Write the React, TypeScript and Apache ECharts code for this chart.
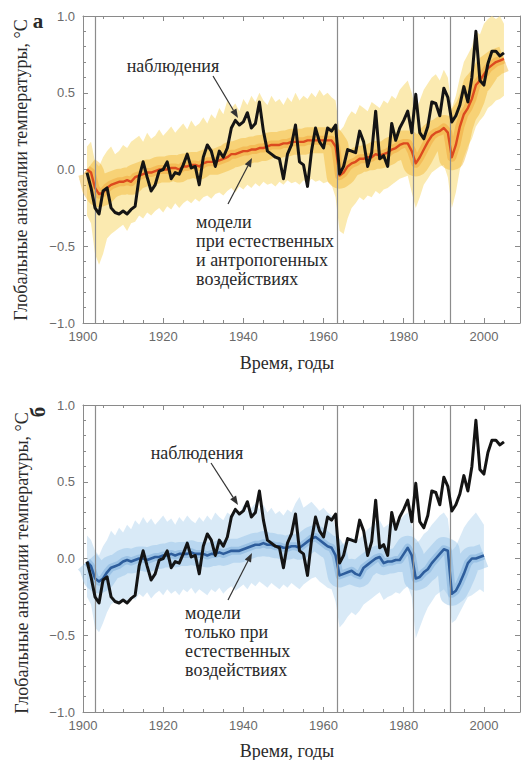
import React, { useEffect, useRef } from "react";
import * as echarts from "echarts";

// ---------- DATA ----------
const FIRST_YEAR = 1901;

// Observed global temperature anomaly, 1901–2005 (°C)
const observed = [
  -0.02, -0.12, -0.25, -0.29, -0.14, -0.12, -0.25, -0.28, -0.29, -0.27,
  -0.29, -0.26, -0.24, -0.05, 0.05, -0.05, -0.14, -0.10, -0.01, 0.00,
  0.05, -0.06, -0.02, -0.03, 0.03, 0.10, 0.01, 0.02, -0.10, 0.08,
  0.16, 0.12, 0.02, 0.12, 0.08, 0.14, 0.27, 0.32, 0.29, 0.31,
  0.37, 0.27, 0.30, 0.44, 0.25, 0.12, 0.10, 0.08, 0.07, -0.06,
  0.10, 0.16, 0.29, 0.05, 0.03, -0.11, 0.12, 0.27, 0.18, 0.14,
  0.27, 0.25, 0.29, -0.03, 0.02, 0.13, 0.12, 0.11, 0.25, 0.18,
  0.02, 0.11, 0.38, 0.07, 0.09, 0.02, 0.30, 0.19, 0.27, 0.32,
  0.38, 0.24, 0.49, 0.24, 0.20, 0.28, 0.44, 0.43, 0.35, 0.53,
  0.47, 0.31, 0.35, 0.42, 0.54, 0.44, 0.60, 0.90, 0.58, 0.55,
  0.69, 0.77, 0.77, 0.74, 0.76,
];

// Models, natural + anthropogenic forcing: ensemble mean 1901–2005
const allMean = [
  0.00, -0.02, -0.12, -0.16, -0.15, -0.12, -0.10, -0.09, -0.08, -0.08,
  -0.07, -0.08, -0.05, -0.04, -0.03, -0.02, -0.02, -0.01, 0.00, 0.00,
  0.00, 0.01, 0.01, 0.00, 0.02, 0.02, 0.03, 0.03, 0.02, 0.04,
  0.05, 0.05, 0.05, 0.06, 0.07, 0.08, 0.10, 0.10, 0.11, 0.12,
  0.12, 0.13, 0.13, 0.14, 0.14, 0.15, 0.16, 0.16, 0.16, 0.17,
  0.17, 0.18, 0.18, 0.18, 0.18, 0.19, 0.19, 0.19, 0.19, 0.19,
  0.19, 0.19, 0.15, -0.04, -0.02, 0.02, 0.04, 0.05, 0.07, 0.07,
  0.08, 0.08, 0.10, 0.09, 0.10, 0.11, 0.13, 0.14, 0.16, 0.17,
  0.17, 0.12, 0.04, 0.08, 0.13, 0.18, 0.22, 0.24, 0.25, 0.27,
  0.24, 0.08, 0.16, 0.28, 0.36, 0.40, 0.46, 0.55, 0.58, 0.62,
  0.66, 0.68, 0.70, 0.71, 0.72,
];
// ensemble envelope (upper / lower), 1901–2005
const allUpper = [
  0.15, 0.18, 0.05, 0.02, 0.08, 0.12, 0.15, 0.10, 0.12, 0.16,
  0.14, 0.18, 0.20, 0.22, 0.18, 0.24, 0.20, 0.22, 0.26, 0.22,
  0.25, 0.28, 0.24, 0.27, 0.30, 0.26, 0.32, 0.28, 0.30, 0.34,
  0.30, 0.36, 0.33, 0.40, 0.36, 0.45, 0.40, 0.43, 0.38, 0.46,
  0.42, 0.48, 0.44, 0.50, 0.45, 0.42, 0.48, 0.44, 0.46, 0.42,
  0.47, 0.44, 0.50, 0.45, 0.48, 0.46, 0.50, 0.47, 0.52, 0.48,
  0.50, 0.47, 0.45, 0.25, 0.28, 0.34, 0.38, 0.36, 0.42, 0.40,
  0.38, 0.44, 0.42, 0.40, 0.45, 0.43, 0.48, 0.46, 0.52, 0.55,
  0.58, 0.50, 0.38, 0.45, 0.52, 0.56, 0.60, 0.62, 0.58, 0.65,
  0.60, 0.40, 0.48, 0.60, 0.70, 0.75, 0.80, 0.90, 0.88, 0.95,
  0.98, 1.00, 0.98, 1.00, 0.95,
];
const allLower = [
  -0.30, -0.35, -0.55, -0.62, -0.55, -0.45, -0.42, -0.40, -0.38, -0.36,
  -0.40, -0.35, -0.34, -0.30, -0.32, -0.28, -0.30, -0.27, -0.25, -0.28,
  -0.24, -0.26, -0.22, -0.25, -0.22, -0.20, -0.22, -0.19, -0.21, -0.18,
  -0.17, -0.19, -0.16, -0.15, -0.17, -0.14, -0.12, -0.15, -0.11, -0.13,
  -0.10, -0.12, -0.09, -0.11, -0.08, -0.10, -0.09, -0.11, -0.08, -0.10,
  -0.07, -0.09, -0.08, -0.10, -0.07, -0.09, -0.06, -0.08, -0.07, -0.09,
  -0.08, -0.10, -0.18, -0.40, -0.42, -0.32, -0.25, -0.22, -0.18, -0.20,
  -0.17, -0.18, -0.14, -0.16, -0.13, -0.12, -0.10, -0.08, -0.06, -0.05,
  -0.04, -0.15, -0.25, -0.18, -0.10, -0.06, -0.02, 0.00, 0.02, 0.03,
  -0.05, -0.25, -0.15, 0.00, 0.08, 0.15, 0.20, 0.28, 0.32, 0.35,
  0.40, 0.42, 0.45, 0.46, 0.48,
];

// Models, natural forcing only: ensemble mean 1901–2000
const natMean = [
  -0.02, -0.05, -0.13, -0.15, -0.13, -0.09, -0.06, -0.05, -0.04, -0.02,
  -0.01, -0.02, -0.01, 0.00, 0.00, -0.01, 0.00, 0.01, 0.01, 0.02,
  0.02, 0.03, 0.02, 0.03, 0.03, 0.03, 0.04, 0.03, 0.03, 0.03,
  0.02, 0.03, 0.03, 0.04, 0.03, 0.04, 0.05, 0.05, 0.05, 0.06,
  0.07, 0.08, 0.09, 0.09, 0.10, 0.09, 0.09, 0.08, 0.08, 0.07,
  0.07, 0.08, 0.08, 0.07, 0.09, 0.11, 0.13, 0.14, 0.12, 0.10,
  0.08, 0.07, 0.02, -0.11, -0.10, -0.09, -0.08, -0.10, -0.11, -0.06,
  -0.04, -0.02, 0.00, 0.01, -0.03, -0.02, -0.02, -0.01, -0.01, 0.03,
  0.07, 0.02, -0.13, -0.12, -0.09, -0.07, -0.03, 0.00, 0.03, 0.06,
  0.05, -0.23, -0.21, -0.16, -0.10, -0.03, 0.00, 0.00, 0.01, 0.02,
];
const natUpper = [
  0.15, 0.12, 0.05, 0.02, 0.08, 0.12, 0.18, 0.15, 0.20, 0.17,
  0.22, 0.19, 0.25, 0.22, 0.27, 0.23, 0.26, 0.22, 0.25, 0.28,
  0.24, 0.26, 0.22, 0.27, 0.24, 0.28, 0.25, 0.23, 0.27, 0.24,
  0.28, 0.25, 0.30, 0.27, 0.25, 0.30, 0.28, 0.32, 0.29, 0.35,
  0.31, 0.33, 0.36, 0.32, 0.35, 0.30, 0.33, 0.29, 0.31, 0.28,
  0.32, 0.30, 0.36, 0.40, 0.33, 0.35, 0.37, 0.34, 0.31, 0.33,
  0.30, 0.28, 0.20, 0.08, 0.10, 0.12, 0.14, 0.11, 0.13, 0.16,
  0.19, 0.21, 0.23, 0.25, 0.20, 0.22, 0.24, 0.21, 0.25, 0.28,
  0.30, 0.22, 0.10, 0.12, 0.16, 0.18, 0.22, 0.25, 0.28, 0.30,
  0.26, 0.05, 0.08, 0.14, 0.20, 0.24, 0.27, 0.30, 0.26, 0.22,
];
const natLower = [
  -0.25, -0.30, -0.45, -0.48, -0.42, -0.35, -0.30, -0.28, -0.30, -0.26,
  -0.28, -0.24, -0.27, -0.23, -0.25, -0.22, -0.26, -0.23, -0.21, -0.24,
  -0.20, -0.23, -0.21, -0.24, -0.20, -0.22, -0.19, -0.23, -0.20, -0.22,
  -0.24, -0.20, -0.22, -0.19, -0.23, -0.20, -0.18, -0.21, -0.19, -0.17,
  -0.20, -0.16, -0.18, -0.15, -0.17, -0.19, -0.16, -0.18, -0.20, -0.17,
  -0.19, -0.16, -0.18, -0.20, -0.17, -0.15, -0.13, -0.12, -0.15, -0.17,
  -0.19, -0.20, -0.28, -0.45, -0.42, -0.38, -0.35, -0.37, -0.34, -0.30,
  -0.28, -0.26, -0.24, -0.22, -0.27, -0.25, -0.24, -0.22, -0.23, -0.20,
  -0.18, -0.25, -0.52, -0.45, -0.38, -0.32, -0.28, -0.24, -0.22, -0.20,
  -0.24, -0.42, -0.40, -0.35, -0.30, -0.25, -0.24, -0.22, -0.20, -0.22,
];

// Major volcanic eruptions (vertical lines)
const volcanoYears = [1903, 1963.3, 1982.3, 1991.5];

// Axes
const X_MIN = 1900;
const X_MAX = 2009;
const X_STEP = 20;
const Y_MIN = -1;
const Y_MAX = 1;
const Y_STEP = 0.5;

// Texts
const yTitle = "Глобальные аномалии температуры, °С";
const xTitle = "Время, годы";
const obsLabel = "наблюдения";
const allLabel = ["модели", "при естественных", "и антропогенных", "воздействиях"];
const natLabel = ["модели", "только при", "естественных", "воздействиях"];

// ---------- HELPERS ----------
const toPairs = (arr: number[]) => arr.map((v, i) => [FIRST_YEAR + i, v]);

const AXIS_COLOR = "#8a8a8a";
const LABEL_COLOR = "#6a6a6a";
const SANS = "Liberation Sans";
const SERIF = "Liberation Serif";
const TEXT_COLOR = "#2a2a2a";

function xAxes(gridIndex: number) {
  const base = {
    type: "value",
    gridIndex,
    min: X_MIN,
    max: X_MAX,
    interval: X_STEP,
    splitLine: { show: false },
    axisLine: { show: true, onZero: false, lineStyle: { color: AXIS_COLOR, width: 1 } },
    axisTick: { show: true, inside: true, length: 5, lineStyle: { color: AXIS_COLOR } },
    minorTick: { show: true, splitNumber: 4, length: 3, lineStyle: { color: AXIS_COLOR } },
  };
  return [
    {
      ...base,
      position: "bottom",
      axisLabel: {
        show: true,
        margin: 7,
        color: LABEL_COLOR,
        fontFamily: SANS,
        fontSize: 13,
        formatter: (v: number) => (v % X_STEP === 0 ? String(v) : ""),
      },
    },
    { ...base, position: "top", axisLabel: { show: false } },
  ];
}

function yAxes(gridIndex: number) {
  const base = {
    type: "value",
    gridIndex,
    min: Y_MIN,
    max: Y_MAX,
    interval: Y_STEP,
    splitLine: { show: false },
    axisLine: { show: true, onZero: false, lineStyle: { color: AXIS_COLOR, width: 1 } },
    axisTick: { show: true, inside: true, length: 5, lineStyle: { color: AXIS_COLOR } },
    minorTick: { show: true, splitNumber: 5, length: 3, lineStyle: { color: AXIS_COLOR } },
  };
  return [
    {
      ...base,
      position: "left",
      axisLabel: {
        show: true,
        margin: 8,
        color: LABEL_COLOR,
        fontFamily: SANS,
        fontSize: 13,
        formatter: (v: number) => v.toFixed(1).replace("-", "\u2212"),
      },
    },
    { ...base, position: "right", axisLabel: { show: false } },
  ];
}

function bandSeries(axisIndex: number, upper: number[], lower: number[], fill: string, opacity: number) {
  return {
    type: "custom",
    xAxisIndex: axisIndex,
    yAxisIndex: axisIndex,
    silent: true,
    z: 1,
    data: [[FIRST_YEAR, 0]],
    encode: { x: 0, y: 1 },
    renderItem: (_params: any, api: any) => {
      const pts: number[][] = [];
      upper.forEach((v, k) => pts.push(api.coord([FIRST_YEAR + k, v])));
      for (let k = lower.length - 1; k >= 0; k--) pts.push(api.coord([FIRST_YEAR + k, lower[k]]));
      return { type: "polygon", shape: { points: pts }, style: { fill, opacity } };
    },
  };
}

function lineSeries(axisIndex: number, data: number[], color: string, width: number, z: number, opacity = 1) {
  return {
    type: "line",
    xAxisIndex: axisIndex,
    yAxisIndex: axisIndex,
    data: toPairs(data),
    showSymbol: false,
    symbol: "none",
    silent: true,
    z,
    lineStyle: { color, width, opacity, join: "round", cap: "butt" },
  };
}

function volcanoSeries(axisIndex: number) {
  return {
    type: "line",
    xAxisIndex: axisIndex,
    yAxisIndex: axisIndex,
    data: [],
    silent: true,
    z: 2,
    markLine: {
      silent: true,
      symbol: "none",
      label: { show: false },
      lineStyle: { color: "#8c8c8c", type: "solid", width: 1.2 },
      data: volcanoYears.map((y) => ({ xAxis: y })),
    },
  };
}

function arrow(x1: number, y1: number, x2: number, y2: number) {
  const ang = Math.atan2(y2 - y1, x2 - x1);
  const hl = 9;
  const hw = 3.5;
  const bx = x2 - hl * Math.cos(ang);
  const by = y2 - hl * Math.sin(ang);
  const px = -Math.sin(ang) * hw;
  const py = Math.cos(ang) * hw;
  return [
    {
      type: "line",
      shape: { x1, y1, x2: bx, y2: by },
      style: { stroke: "#333", lineWidth: 1.2 },
      z: 100,
    },
    {
      type: "polygon",
      shape: { points: [[x2, y2], [bx + px, by + py], [bx - px, by - py]] },
      style: { fill: "#333" },
      z: 100,
    },
  ];
}

function text(x: number, y: number, t: string, opts: any = {}) {
  return {
    type: "text",
    x,
    y,
    rotation: opts.rotation || 0,
    z: 100,
    style: {
      text: t,
      fill: opts.fill || TEXT_COLOR,
      fontFamily: SERIF,
      fontSize: opts.fontSize || 18,
      fontWeight: opts.fontWeight || "normal",
      align: opts.align || "center",
      verticalAlign: opts.verticalAlign || "middle",
      lineHeight: opts.lineHeight,
    },
  };
}

export default function App() {
  const ref = useRef<HTMLDivElement>(null);

  useEffect(() => {
    document.body.style.margin = "0";
    const chart = echarts.init(ref.current!, null, { renderer: "svg" });

    const option: any = {
      animation: false,
      backgroundColor: "#ffffff",
      grid: [
        { left: 83, top: 16, width: 437, height: 307 },
        { left: 83, top: 405, width: 437, height: 307 },
      ],
      xAxis: [...xAxes(0), ...xAxes(1)],
      yAxis: [...yAxes(0), ...yAxes(1)],
      series: [
        // panel а
        bandSeries(0, allUpper, allLower, "#f9dc7c", 0.6),
        volcanoSeries(0),
        lineSeries(0, allMean, "#f2b630", 26, 3, 0.45),
        lineSeries(0, allMean, "#f09a2a", 9, 3, 0.4),
        lineSeries(0, allMean, "#dc4a1e", 2.4, 4),
        lineSeries(0, observed, "#141414", 3, 5),
        // panel б
        bandSeries(2, natUpper, natLower, "#c4def2", 0.65),
        volcanoSeries(2),
        lineSeries(2, natMean, "#93c0e6", 24, 3, 0.45),
        lineSeries(2, natMean, "#6fa3d4", 8, 3, 0.4),
        lineSeries(2, natMean, "#2d5d9c", 2.6, 4),
        lineSeries(2, observed, "#141414", 3, 5),
      ],
      graphic: [
        text(38, 21, "а", { fontSize: 21, fontWeight: "bold" }),
        text(38, 412, "б", { fontSize: 21, fontWeight: "bold", rotation: Math.PI / 2 }),
        text(21, 170, yTitle, { rotation: Math.PI / 2 }),
        text(22, 563, yTitle, { rotation: Math.PI / 2 }),
        text(287, 363, xTitle),
        text(287, 751, xTitle),
        // panel а annotations
        text(173, 66, obsLabel),
        ...arrow(213, 76, 238, 118),
        text(196, 212, allLabel.join("\n"), { align: "left", verticalAlign: "top", lineHeight: 19 }),
        ...arrow(228, 204, 252, 158),
        // panel б annotations
        text(197, 453, obsLabel),
        ...arrow(211, 463, 238, 505),
        text(185, 603, natLabel.join("\n"), { align: "left", verticalAlign: "top", lineHeight: 19 }),
        ...arrow(228, 600, 252, 553),
      ],
    };

    chart.setOption(option);
    return () => chart.dispose();
  }, []);

  return <div ref={ref} style={{ width: 525, height: 760 }} />;
}
